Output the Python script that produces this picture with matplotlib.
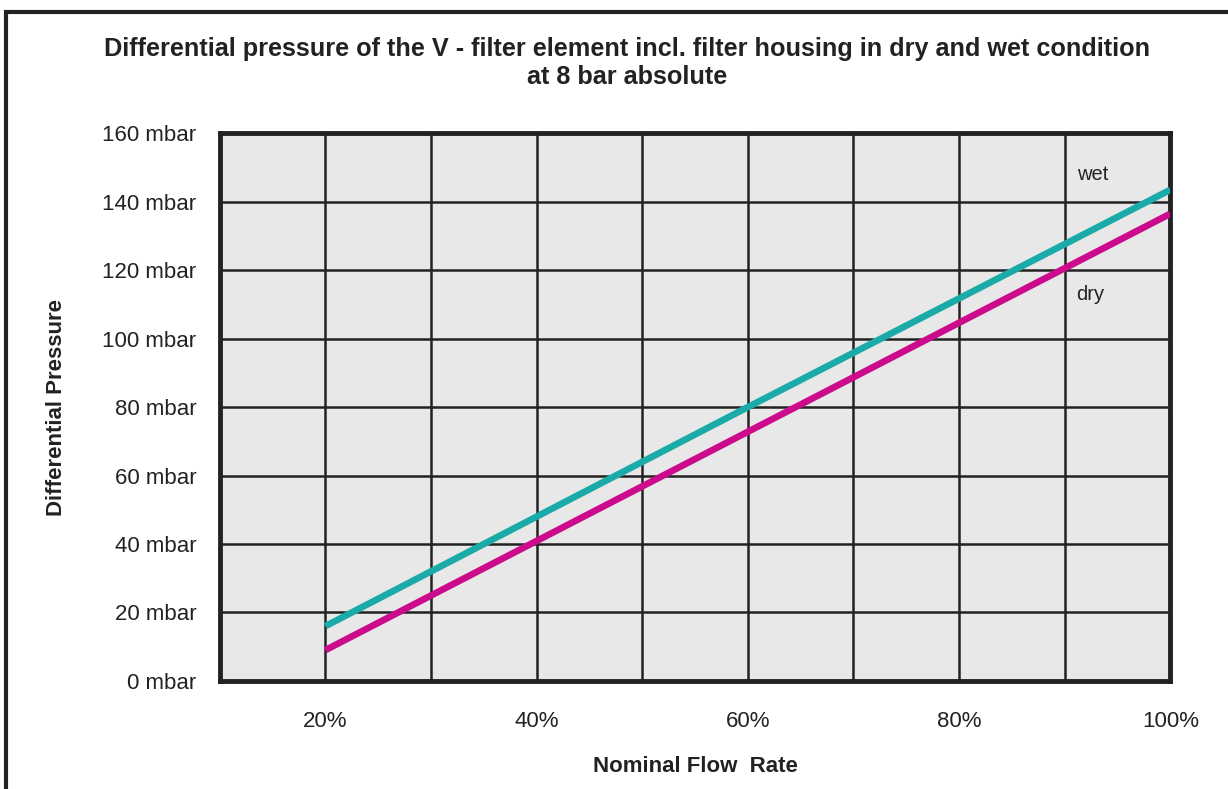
import matplotlib
matplotlib.use("Agg")
import matplotlib.pyplot as plt
from matplotlib.patches import Rectangle

# === DATA ===
flow = [20, 60, 100]
wet = [16, 80, 143.5]
dry = [9, 72.8, 136.5]
y_ticks = [0, 20, 40, 60, 80, 100, 120, 140, 160]
x_ticks = [20, 40, 60, 80, 100]

plt.rcParams['font.family'] = ['Liberation Sans', 'DejaVu Sans']
ink = "#222222"

fig = plt.figure(figsize=(12.28, 7.89), dpi=100)
ax = fig.add_axes([0.179, 0.137, 0.774, 0.694])
ax.set_facecolor("#e8e8e8")

ax.plot(flow, wet, color="#1aaba8", lw=4.8, solid_capstyle="butt", zorder=3)
ax.plot(flow, dry, color="#cc0a8c", lw=4.8, solid_capstyle="butt", zorder=3)
ax.text(92.7, 148, "wet", fontsize=14.5, color=ink, ha="center", va="center")
ax.text(92.4, 113, "dry", fontsize=14.5, color=ink, ha="center", va="center")

ax.set_xlim(10, 100)
ax.set_ylim(0, 160)
ax.set_xticks(x_ticks)
ax.set_xticks(range(10, 101, 10), minor=True)
ax.set_xticklabels([f"{v}%" for v in x_ticks])
ax.set_yticks(y_ticks)
ax.set_yticklabels([f"{v} mbar" for v in y_ticks])
ax.grid(True, which="both", axis="x", color=ink, lw=1.8)
ax.grid(True, which="major", axis="y", color=ink, lw=1.8)
ax.set_axisbelow(True)
ax.tick_params(which="both", length=0, labelsize=16, colors=ink)
ax.tick_params(axis="x", pad=22)
ax.tick_params(axis="y", pad=17)
for s in ax.spines.values():
    s.set_linewidth(3.5)
    s.set_color(ink)

ax.set_xlabel("Nominal Flow  Rate", fontsize=16, fontweight="bold", color=ink, labelpad=17)
ax.set_ylabel("Differential Pressure", fontsize=16, fontweight="bold", color=ink, labelpad=25)

fig.text(0.511, 0.92,
         "Differential pressure of the V - filter element incl. filter housing in dry and wet condition\nat 8 bar absolute",
         fontsize=18.2, fontweight="bold", color=ink, ha="center", va="center", linespacing=1.25)

# outer frame, runs past the right and bottom edges
fig.patches.append(Rectangle((0.0045, -0.1), 1.2, 1.085, transform=fig.transFigure,
                             fill=False, lw=3, edgecolor=ink))

fig.savefig("out.png", dpi=100)
